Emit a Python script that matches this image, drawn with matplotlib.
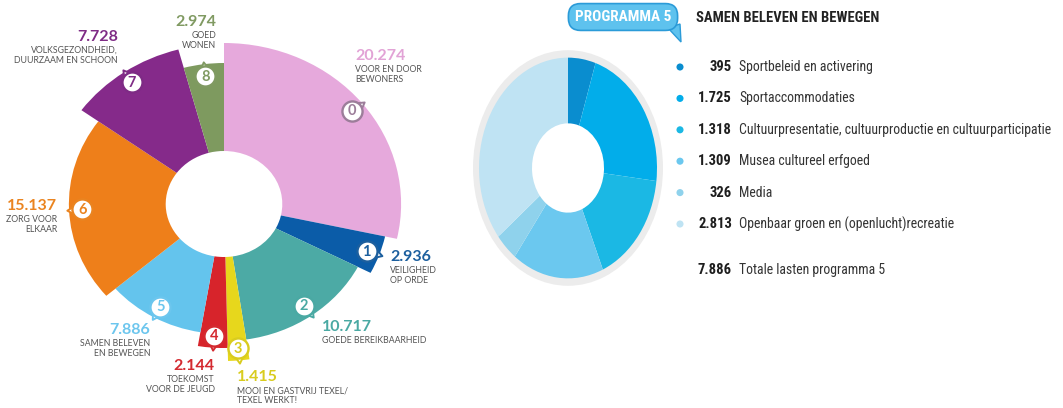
import numpy as np
import matplotlib
matplotlib.use("Agg")
import matplotlib.pyplot as plt
from matplotlib.patches import Wedge, Polygon
from matplotlib import font_manager

# ---------------- DATA ----------------
prog_nummers = ["0", "1", "2", "3", "4", "5", "6", "7", "8"]
prog_waarden = [20.274, 2.936, 10.717, 1.415, 2.144, 7.886, 15.137, 7.728, 2.974]
prog_namen = [
    "VOOR EN DOOR\nBEWONERS",
    "VEILIGHEID\nOP ORDE",
    "GOEDE BEREIKBAARHEID",
    "MOOI EN GASTVRIJ TEXEL/\nTEXEL WERKT!",
    "TOEKOMST\nVOOR DE JEUGD",
    "SAMEN BELEVEN\nEN BEWEGEN",
    "ZORG VOOR\nELKAAR",
    "VOLKSGEZONDHEID,\nDUURZAAM EN SCHOON",
    "GOED\nWONEN",
]
prog_kleuren = ["#e6a9dc", "#0b5ca8", "#4caaa5", "#e7d71c", "#d7242b",
                "#64c4ed", "#ee7f1a", "#852a8a", "#7e9a5f"]
prog_tekstkleur = ["#e2a3d6", "#1c5f9e", "#4aa9a3", "#d9cc1e", "#d42a30",
                   "#6cc6ee", "#ea8420", "#7e2b85", "#809a62"]
prog_straal = [161, 150, 137, 157, 144, 130, 141, 160, 141]

p5_waarden = [395, 1725, 1318, 1309, 326, 2813]
p5_namen = [
    "Sportbeleid en activering",
    "Sportaccommodaties",
    "Cultuurpresentatie, cultuurproductie en cultuurparticipatie",
    "Musea cultureel erfgoed",
    "Media",
    "Openbaar groen en (openlucht)recreatie",
]
p5_kleuren = ["#0a8dcf", "#02adea", "#1bb8e4", "#6bc8ef", "#8fd2ec", "#bfe3f3"]
p5_totaal = 7886

# ---------------- LAYOUT ----------------
W, H = 1063, 408
GAT = 53          # straal gat links
SX = 1.1          # beeld is horizontaal wat uitgerekt
CX, CY = 224, 204

# (x, y van bedrag, uitlijning) in pixels
label_pos = [(355, 56, "left"), (390, 257, "left"), (322, 327, "left"),
             (237, 377, "left"), (215, 366, "right"), (150, 330, "right"),
             (57, 206, "right"), (118, 37, "right"), (216, 22, "right")]

namen = {f.name for f in font_manager.fontManager.ttflist}
smal = next((f for f in ["Liberation Sans Narrow", "Roboto Condensed", "DejaVu Sans"]
             if f in namen), "DejaVu Sans")
rond = "Lato" if "Lato" in namen else "DejaVu Sans"

fig = plt.figure(figsize=(W / 100, H / 100), dpi=100)
fig.patch.set_facecolor("white")

# ---------------- LINKS: PROGRAMMA'S ----------------
ax = fig.add_axes([0, 0, 430 / W, 1])
ax.set_xlim(-CX / SX, (430 - CX) / SX)
ax.set_ylim(-(H - CY), CY)
ax.axis("off")

totaal = sum(prog_waarden)
start = 90.0
for i, v in enumerate(prog_waarden):
    hoek = v / totaal * 360
    t1, t2 = start - hoek, start
    r = prog_straal[i]
    ax.add_patch(Wedge((0, 0), r, t1, t2, width=r - GAT,
                       facecolor=prog_kleuren[i], linewidth=0))
    mid = np.radians((t1 + t2) / 2)
    rb = r - 12
    bx, by = rb * np.cos(mid), rb * np.sin(mid)
    rand = "#9c7d9a" if i == 0 else prog_tekstkleur[i]
    disp = np.degrees(np.arctan2(np.sin(mid), SX * np.cos(mid)))
    ax.scatter([bx + 9.5 * np.cos(mid)], [by + 9.5 * np.sin(mid)], s=55,
               marker=(3, 0, disp - 90), facecolor="white", edgecolor=rand,
               linewidth=1.4, zorder=4)
    ax.scatter([bx], [by], s=210, facecolor="white", edgecolor=rand,
               linewidth=1.7, zorder=5)
    ax.text(bx, by - 0.5, prog_nummers[i], ha="center", va="center",
            fontsize=10.5, fontweight="bold", color=rand, family=rond, zorder=6)
    start = t1

# ---------------- RECHTS: DONUT PROGRAMMA 5 ----------------
SY = 1.24
ax2 = fig.add_axes([460 / W, 0, 216 / W, 1])
ax2.set_xlim(-108, 108)
ax2.set_ylim(-(H - 168) / SY, 168 / SY)
ax2.axis("off")
ax2.add_patch(Wedge((0, 0), 95, 0, 360, width=8, facecolor="#ececec", linewidth=0))

start = 90.0
for i, v in enumerate(p5_waarden):
    hoek = v / sum(p5_waarden) * 360
    ax2.add_patch(Wedge((0, 0), 89, start - hoek, start, width=53,
                        facecolor=p5_kleuren[i], linewidth=0))
    start -= hoek

# ---------------- TEKSTEN (pixelcoordinaten) ----------------
ov = fig.add_axes([0, 0, 1, 1])
ov.set_xlim(0, W)
ov.set_ylim(H, 0)
ov.axis("off")

for i, (x, y, ha) in enumerate(label_pos):
    ov.text(x, y, f"{prog_waarden[i]:.3f}", ha=ha, va="center", fontsize=11.5,
            fontweight="bold", color=prog_tekstkleur[i], family=rond)
    ov.text(x, y + 9, prog_namen[i], ha=ha, va="top", fontsize=6.3,
            color="#555555", family=rond, linespacing=1.15, multialignment=ha)

# kop
ov.text(623, 17, "PROGRAMMA 5", ha="center", va="center", fontsize=11,
        fontweight="bold", color="white", family=smal, zorder=6,
        bbox=dict(boxstyle="round,pad=0.42,rounding_size=0.8",
                  facecolor="#5ec2ee", edgecolor="#2b9bd8", linewidth=1.2))
ov.add_patch(Polygon([(668, 28), (680, 24), (681, 42)], closed=True,
                     facecolor="#5ec2ee", edgecolor="#2b9bd8", linewidth=1.0, zorder=5))
ov.text(696, 18, "SAMEN BELEVEN EN BEWEGEN", ha="left", va="center",
        fontsize=10.5, fontweight="bold", color="#222222", family=smal)

# legenda
rij_y = [67 + 31.4 * i for i in range(len(p5_waarden))]
ov.scatter([680] * len(rij_y), rij_y, s=26, c=p5_kleuren, linewidths=0)
for i, y in enumerate(rij_y):
    ov.text(732, y, f"{p5_waarden[i]:,}".replace(",", "."), ha="right", va="center",
            fontsize=10.5, fontweight="bold", color="#1e1e1e", family=smal)
    ov.text(739, y, p5_namen[i], ha="left", va="center", fontsize=9.9,
            color="#333333", family=smal)
ov.text(732, 270, f"{p5_totaal:,}".replace(",", "."), ha="right", va="center",
        fontsize=10.5, fontweight="bold", color="#1e1e1e", family=smal)
ov.text(739, 270, "Totale lasten programma 5", ha="left", va="center",
        fontsize=9.9, color="#333333", family=smal)

fig.savefig("out.png", dpi=100)
plt.close(fig)
